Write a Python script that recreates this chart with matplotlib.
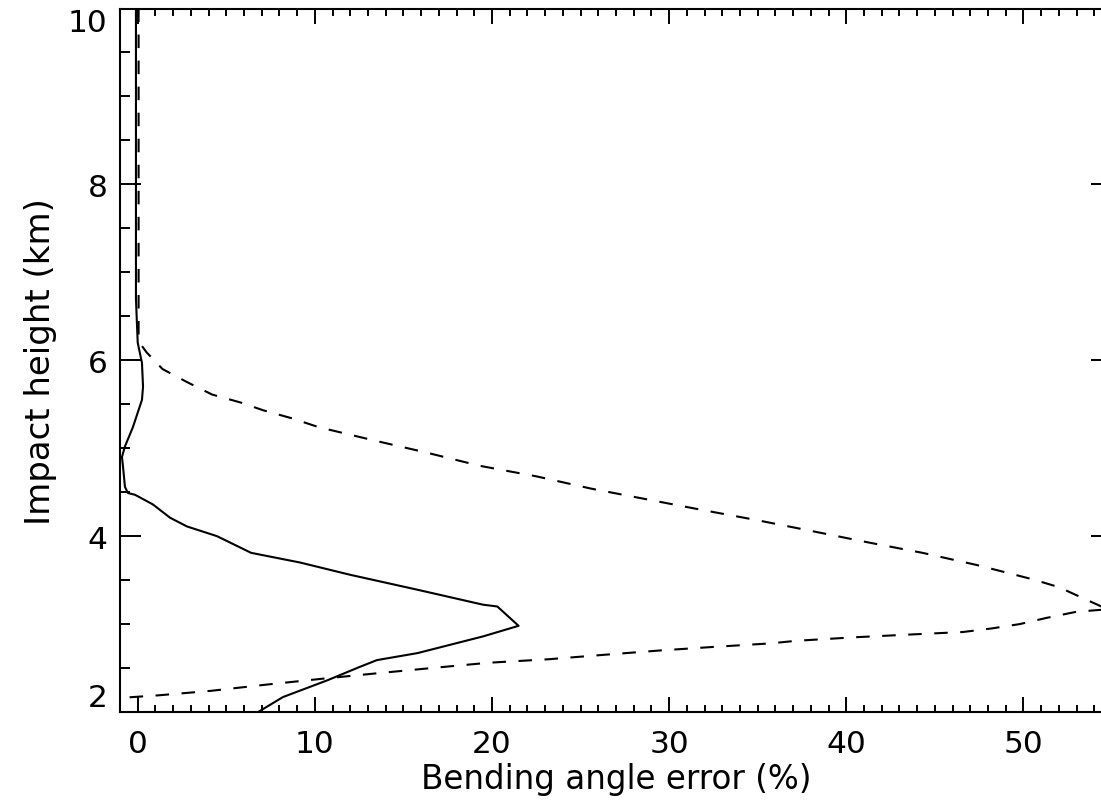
import matplotlib
matplotlib.use('Agg')
import matplotlib.pyplot as plt
from matplotlib.ticker import MultipleLocator

# solid curve: impact height (km) and bending angle error (%)
solid_height = [10.0, 6.7, 6.2, 5.97, 5.70, 5.55, 5.24, 5.02, 4.90, 4.79, 4.56, 4.49,
                4.47, 4.36, 4.21, 4.11, 4.00, 3.81, 3.70, 3.56, 3.39, 3.22, 3.20,
                2.98, 2.86, 2.67, 2.59, 2.51, 2.36, 2.17, 2.0]
solid_error = [-0.1, -0.1, 0.0, 0.24, 0.30, 0.24, -0.27, -0.72, -0.89, -0.83, -0.72, -0.55,
               -0.15, 0.86, 1.82, 2.78, 4.47, 6.4, 9.16, 12.0, 15.8, 19.5, 20.3,
               21.5, 19.5, 15.8, 13.5, 12.5, 10.7, 8.2, 6.8]

# dashed curve
dashed_height = [10.0, 6.3, 6.2, 6.09, 5.90, 5.75, 5.61, 5.52, 5.43, 5.34, 5.24, 5.09,
                 4.95, 4.80, 4.68, 4.54, 4.42, 4.30, 4.18, 4.06, 3.93, 3.81, 3.67,
                 3.51, 3.42, 3.30, 3.20, 3.18, 3.14, 3.07, 3.00, 2.95, 2.91, 2.88,
                 2.85, 2.81, 2.78, 2.74, 2.70, 2.65, 2.60, 2.56, 2.50, 2.44, 2.38,
                 2.31, 2.24, 2.19, 2.16]
dashed_error = [0.05, 0.05, 0.1, 0.5, 1.4, 2.8, 4.2, 5.8, 7.1, 8.7, 10.2, 13.3,
                16.3, 19.3, 22.5, 25.6, 28.7, 31.8, 35.0, 38.0, 41.2, 44.3, 47.4,
                50.5, 52.0, 53.3, 54.4, 55.5, 53.0, 51.3, 49.8, 48.2, 46.6, 43.5,
                40.5, 37.2, 35.7, 32.5, 29.5, 26.3, 23.2, 19.8, 16.6, 13.5, 10.5,
                7.2, 4.1, 1.2, -1.0]

xticks = [0, 10, 20, 30, 40, 50]
yticks = [2, 4, 6, 8, 10]

plt.rcParams['font.family'] = 'DejaVu Sans'

fig = plt.figure(figsize=(11.01, 8.04), dpi=100)
# axes run past the right edge of the picture, like the reference
ax = fig.add_axes([120/1101, 91/804, 992/1101, 703.5/804])

ax.plot(solid_error, solid_height, color='k', lw=1.5)
ax.plot(dashed_error, dashed_height, color='k', lw=1.5, dashes=(6.5, 6))

ax.set_xlim(-1, 55)
ax.set_ylim(2, 10)
ax.set_xticks(xticks)
ax.set_yticks(yticks)
ax.xaxis.set_minor_locator(MultipleLocator(1))
ax.yaxis.set_minor_locator(MultipleLocator(0.5))

ax.tick_params(which='both', direction='in', top=True, right=True, width=1.4, color='k')
ax.tick_params(axis='x', which='major', length=11, pad=12, labelsize=22.5)
ax.tick_params(axis='x', which='minor', length=5)
ax.tick_params(axis='y', which='major', length=15, pad=9, labelsize=22.5)
ax.tick_params(axis='y', which='minor', length=7.5)
for s in ax.spines.values():
    s.set_linewidth(1.5)

ylabels = ax.get_yticklabels()
ylabels[0].set_va('bottom')
ylabels[-1].set_va('top')

ax.set_xlabel('Bending angle error (%)', fontsize=23.5, labelpad=3)
ax.set_ylabel('Impact height (km)', fontsize=24.5, labelpad=8)

fig.savefig('out.png', dpi=100)
